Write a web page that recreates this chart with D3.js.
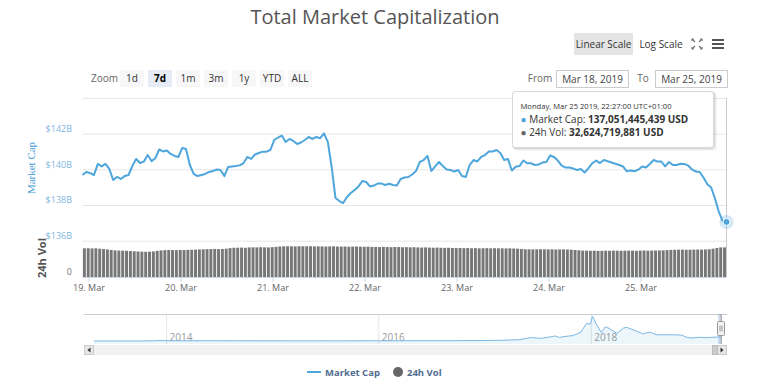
<!DOCTYPE html>
<html><head><meta charset="utf-8">
<script src="https://cdn.jsdelivr.net/npm/d3@7"></script>
<style>
html,body{margin:0;padding:0;background:#fff;}
svg{display:block;font-family:"Open Sans",sans-serif;}
</style></head><body>
<svg id="chart" width="768" height="381"></svg>
<script>
// ---------- data ----------
const chartTitle = "Total Market Capitalization";
const capStart = "2019-03-18T22:27:00Z";          // hourly samples
const capValues = [
139.68,139.85,139.79,139.68,140.30,140.16,140.30,140.02,139.40,139.57,
139.46,139.62,139.68,140.18,140.58,140.35,140.43,140.80,140.46,140.62,
141.11,141.00,141.05,140.86,140.75,140.69,141.19,141.14,140.24,139.74,
139.62,139.68,139.74,139.85,139.90,139.99,139.96,139.62,140.13,140.16,
140.18,140.22,140.35,140.69,140.58,140.83,140.91,140.99,140.99,141.08,
141.64,141.78,141.89,141.53,141.70,141.59,141.42,141.50,141.64,141.81,
141.70,141.81,141.74,142.01,141.53,140.13,138.39,138.22,138.11,138.45,
138.67,138.84,139.04,139.34,139.29,139.04,139.09,139.20,139.20,139.12,
139.19,139.12,139.09,139.46,139.54,139.57,139.71,139.90,140.41,140.52,
140.75,139.90,140.16,140.41,140.18,139.99,139.96,139.88,139.96,139.62,
139.57,140.24,140.52,140.44,140.69,140.80,141.00,141.00,141.08,140.91,
140.52,140.58,139.93,140.14,140.18,140.49,140.34,140.34,140.24,140.27,
140.38,140.41,140.77,140.69,140.49,140.21,140.10,140.10,140.04,139.96,
140.02,139.82,140.07,140.34,140.49,140.35,140.52,140.45,140.38,140.31,
140.24,140.16,139.89,139.93,139.89,139.98,140.16,140.10,140.30,140.52,
140.43,140.43,140.16,140.41,140.24,140.24,140.31,140.30,140.21,139.99,
139.87,139.85,139.54,139.16,138.98,138.36,137.61,137.10,137.051445439];
const volValues = [
31.6,31.7,31.5,31.6,31.2,30.8,30.4,
29.8,29.3,29.1,29.0,28.9,
28.6,28.3,28.1,27.9,27.8,27.9,28.2,28.8,
29.3,29.6,29.8,29.7,29.6,29.8,29.7,29.9,30.0,
30.2,30.4,30.5,30.7,30.8,30.9,30.8,30.9,31.2,
31.8,32.2,32.3,32.4,32.2,
32.6,32.7,32.6,32.8,32.7,32.6,32.9,33.2,
33.6,33.8,33.9,33.8,33.7,33.9,33.8,33.8,33.9,33.7,33.8,
33.7,33.6,33.7,33.8,33.6,33.5,33.6,33.4,33.5,33.6,33.4,33.3,33.4,33.2,
33.1,33.0,33.2,33.0,32.9,33.1,33.0,32.8,32.9,32.7,32.8,32.6,32.5,32.6,32.4,32.3,32.4,32.2,
32.1,32.2,32.0,31.9,32.0,31.8,31.9,31.7,31.8,31.6,31.7,31.8,31.6,31.7,31.6,
31.6,31.5,31.6,31.4,31.2,30.9,
30.6,30.5,30.4,30.5,30.6,30.5,30.4,30.5,30.3,30.4,30.5,30.3,30.1,29.8,
29.4,29.1,29.0,28.9,29.0,28.8,28.9,29.0,28.9,29.1,29.0,28.9,29.0,29.1,29.0,28.9,29.1,29.2,29.0,29.1,29.2,29.3,29.4,29.6,
29.9,30.0,30.1,30.2,30.0,30.1,30.2,30.3,30.2,30.4,30.6,31.2,
32.0,32.6,32.62];
const capTicks = [136, 138, 140, 142, 144];
const capLabelTicks = [136, 138, 140, 142];
const volTicks = [0];
const navDates = ["2013-04-28","2013-07-01","2013-10-01","2013-11-15","2013-12-04",
"2014-01-15","2014-03-01","2014-06-01","2014-09-01","2014-12-01",
"2015-03-01","2015-06-01","2015-09-01","2015-12-01",
"2016-03-01","2016-06-15","2016-09-01","2016-12-01",
"2017-01-05","2017-03-01","2017-05-01","2017-05-25","2017-06-12","2017-07-15","2017-08-15","2017-09-01","2017-09-15","2017-10-01","2017-11-01","2017-11-28","2017-12-17","2017-12-30",
"2018-01-07","2018-01-20","2018-02-06","2018-02-20","2018-03-05","2018-04-01","2018-04-24","2018-05-05","2018-06-01","2018-06-28","2018-07-25","2018-08-15","2018-09-10","2018-10-10","2018-11-10","2018-11-25","2018-12-15",
"2019-01-10","2019-02-06","2019-03-01","2019-03-25"];
const navValues = [1.5,1.1,1.9,6,15,
10,8,8.5,6,4.8,
3.8,3.8,3.7,6.5,
7.4,12,10.5,14,
18,23,45,90,115,90,140,170,120,150,185,300,600,570,
830,570,290,480,430,260,440,460,360,245,300,210,210,210,200,130,100,
125,115,130,137];
const navYearTicks = ["2014-01-01","2016-01-01","2018-01-01"];
const zoomButtons = ["1d","7d","1m","3m","1y","YTD","ALL"];
const selectedZoom = "7d";
const scaleButtons = ["Linear Scale","Log Scale"];
const rangeFrom = "Mar 18, 2019", rangeTo = "Mar 25, 2019";
const tooltipDate = "Monday, Mar 25 2019, 22:27:00 UTC+01:00";
const tooltipCap = "137,051,445,439 USD";
const tooltipVol = "32,624,719,881 USD";
const legendItems = ["Market Cap", "24h Vol"];

// ---------- setup ----------
const svg = d3.select("#chart");
const BLUE = "#4ea6dc";
const t0 = new Date(capStart);
const capTimes = capValues.map((v, i) => d3.utcHour.offset(t0, i));
const tEnd = capTimes[capTimes.length - 1];

const X0 = 82.5, X1 = 726.5;
const x = d3.scaleUtc().domain([t0, tEnd]).range([X0, X1]);
const yCap = d3.scaleLinear().domain([136, 144]).range([240.7, 97.9]);
const yVol = d3.scaleLinear().domain([0, 40]).range([277, 240.7]);

// title
svg.append("text").attr("x", 375).attr("y", 24).attr("text-anchor", "middle")
  .attr("font-size", 20).attr("fill", "#555").text(chartTitle);

// scale buttons
svg.append("rect").attr("x", 574).attr("y", 33).attr("width", 59).attr("height", 22)
  .attr("fill", "#e4e4e4").attr("rx", 1);
svg.append("text").attr("x", 603.5).attr("y", 47.5).attr("text-anchor", "middle")
  .attr("font-size", 10).attr("fill", "#333").text(scaleButtons[0]);
svg.append("text").attr("x", 661).attr("y", 47.5).attr("text-anchor", "middle")
  .attr("font-size", 10).attr("fill", "#333").text(scaleButtons[1]);
// fullscreen icon
const fs = svg.append("g").attr("stroke", "#777").attr("stroke-width", 1.2).attr("fill", "none");
[[692,39,1,1],[702,39,-1,1],[692,49,1,-1],[702,49,-1,-1]].forEach(([cx, cy, sx, sy]) => {
  fs.append("path").attr("d", `M${cx},${cy}L${cx + sx*3},${cy + sy*3}`);
  fs.append("path").attr("d", `M${cx},${cy}h${sx*2}M${cx},${cy}v${sy*2}`);
});
// menu icon
[40, 44, 48].forEach(yy => svg.append("line").attr("x1", 712).attr("x2", 724)
  .attr("y1", yy).attr("y2", yy).attr("stroke", "#555").attr("stroke-width", 2));

// zoom buttons
svg.append("text").attr("x", 91).attr("y", 82).attr("font-size", 10).attr("fill", "#666").text("Zoom");
const zb = svg.append("g").selectAll("g").data(zoomButtons).join("g")
  .attr("transform", (d, i) => `translate(${120 + i * 28},70)`);
zb.append("rect").attr("width", 24).attr("height", 17).attr("rx", 1)
  .attr("fill", d => d === selectedZoom ? "#e6ebf5" : "#f7f7f7");
zb.append("text").attr("x", 12).attr("y", 12).attr("text-anchor", "middle").attr("font-size", 10)
  .attr("font-weight", d => d === selectedZoom ? "bold" : "normal")
  .attr("fill", d => d === selectedZoom ? "#000" : "#333").text(d => d);

// range inputs
svg.append("text").attr("x", 540).attr("y", 82).attr("text-anchor", "middle")
  .attr("font-size", 10).attr("fill", "#666").text("From");
svg.append("rect").attr("x", 556.5).attr("y", 70.5).attr("width", 72).attr("height", 17)
  .attr("fill", "#fff").attr("stroke", "#ccc");
svg.append("text").attr("x", 592.5).attr("y", 82.5).attr("text-anchor", "middle")
  .attr("font-size", 10).attr("fill", "#444").text(rangeFrom);
svg.append("text").attr("x", 643).attr("y", 82).attr("text-anchor", "middle")
  .attr("font-size", 10).attr("fill", "#666").text("To");
svg.append("rect").attr("x", 655.5).attr("y", 70.5).attr("width", 72).attr("height", 17)
  .attr("fill", "#fff").attr("stroke", "#ccc");
svg.append("text").attr("x", 691.5).attr("y", 82.5).attr("text-anchor", "middle")
  .attr("font-size", 10).attr("fill", "#444").text(rangeTo);

// gridlines
svg.append("g").attr("transform", `translate(${X0},0)`)
  .call(d3.axisRight(yCap).tickValues(capTicks).tickSize(X1 - X0 + 1).tickFormat(""))
  .call(g => g.select(".domain").remove())
  .call(g => g.selectAll("line").attr("stroke", "#e6e6e6"));

// y labels (market cap)
svg.append("g").attr("transform", `translate(${X0},0)`)
  .call(d3.axisLeft(yCap).tickValues(capLabelTicks).tickSize(0).tickPadding(X0 - 72)
    .tickFormat(d => "$" + d + "B"))
  .call(g => g.select(".domain").remove())
  .call(g => g.selectAll("text").attr("y", -5).attr("font-size", 9)
    .attr("font-family", "Open Sans").attr("fill", "#7fb6df"));
svg.append("text").attr("transform", "translate(35,168) rotate(-90)").attr("text-anchor", "middle")
  .attr("font-family", "Liberation Serif").attr("font-size", 11).attr("fill", "#3d9ad6").text("Market Cap");

// volume axis
svg.append("g").attr("transform", `translate(${X0},0)`)
  .call(d3.axisLeft(yVol).tickValues(volTicks).tickSize(0).tickPadding(X0 - 72).tickFormat(d => d))
  .call(g => g.select(".domain").remove())
  .call(g => g.selectAll("text").attr("y", -5).attr("font-size", 9)
    .attr("font-family", "Open Sans").attr("fill", "#777"));
svg.append("text").attr("transform", "translate(46,258) rotate(-90)").attr("text-anchor", "middle")
  .attr("font-size", 11).attr("font-weight", "bold").attr("fill", "#555").text("24h Vol");

// volume bars
svg.append("g").selectAll("rect").data(volValues).join("rect")
  .attr("x", (d, i) => x(d3.utcHour.offset(t0, i)) + 0.4)
  .attr("width", (d, i) => x(d3.utcHour.offset(t0, i + 1)) - x(d3.utcHour.offset(t0, i)) - 0.9)
  .attr("y", d => yVol(d)).attr("height", d => yVol(0) - yVol(d))
  .attr("fill", "#777777");

// x axis
svg.append("g").attr("transform", "translate(0,277)")
  .call(d3.axisBottom(x).ticks(d3.utcDay.every(1)).tickSize(5).tickPadding(3)
    .tickFormat(d3.utcFormat("%-d. %b")))
  .call(g => g.select(".domain").attr("stroke", "#ccd6eb").attr("d", `M${X0},0.5H${X1}`))
  .call(g => g.selectAll("line").attr("stroke", "#ccd6eb"))
  .call(g => g.selectAll("text").attr("font-size", 9).attr("font-family", "Open Sans").attr("fill", "#666"));

// crosshair
svg.append("line").attr("x1", x(tEnd)).attr("x2", x(tEnd)).attr("y1", yCap(144)).attr("y2", 277)
  .attr("stroke", "#cccccc").attr("stroke-width", 1);

// market cap line
const line = d3.line().x((d, i) => x(capTimes[i])).y(d => yCap(d));
svg.append("path").datum(capValues).attr("d", line).attr("fill", "none")
  .attr("stroke", BLUE).attr("stroke-width", 2).attr("stroke-linejoin", "round");

// hover marker
const ex = x(tEnd), ey = yCap(capValues[capValues.length - 1]);
svg.append("circle").attr("cx", ex).attr("cy", ey).attr("r", 7).attr("fill", BLUE).attr("opacity", 0.25);
svg.append("circle").attr("cx", ex).attr("cy", ey).attr("r", 3.5).attr("fill", BLUE)
  .attr("stroke", "#fff").attr("stroke-width", 1);

// tooltip
const tt = svg.append("g").attr("transform", "translate(512,91)");
[3, 2, 1].forEach((o, k) => tt.append("rect").attr("x", o).attr("y", o).attr("width", 201).attr("height", 56)
  .attr("rx", 3).attr("fill", "none").attr("stroke", "#000").attr("stroke-opacity", 0.03 * (k + 1)).attr("stroke-width", 2));
tt.append("rect").attr("x", 0.5).attr("y", 0.5).attr("width", 201).attr("height", 56).attr("rx", 3)
  .attr("fill", "rgba(255,255,255,0.96)").attr("stroke", "#d8d8d8");
tt.append("text").attr("x", 8.5).attr("y", 18).attr("font-size", 7.6).attr("fill", "#333").text(tooltipDate);
const l2 = tt.append("text").attr("x", 8.5).attr("y", 31.5).attr("font-size", 10).attr("fill", "#333");
l2.append("tspan").attr("fill", BLUE).text("● ");
l2.append("tspan").text("Market Cap: ");
l2.append("tspan").attr("font-weight", "bold").text(tooltipCap);
const l3 = tt.append("text").attr("x", 8.5).attr("y", 44.5).attr("font-size", 10).attr("fill", "#333");
l3.append("tspan").attr("fill", "#666").text("● ");
l3.append("tspan").text("24h Vol: ");
l3.append("tspan").attr("font-weight", "bold").text(tooltipVol);

// ---------- navigator ----------
const navT = navDates.map(d => new Date(d + "T00:00:00Z"));
const xNav = d3.scaleUtc().domain([navT[0], navT[navT.length - 1]]).range([94, 721]);
const yNav = d3.scaleLinear().domain([0, 830]).range([341, 316.5]);
const NAV_TOP = 314, NAV_BOT = 344;

svg.append("g").attr("transform", `translate(0,${NAV_TOP})`)
  .call(d3.axisBottom(xNav).tickValues(navYearTicks.map(d => new Date(d + "T00:00:00Z")))
    .tickSize(NAV_BOT - NAV_TOP).tickFormat(d3.utcFormat("%Y")))
  .call(g => g.select(".domain").remove())
  .call(g => g.selectAll("line").attr("stroke", "#e6e6e6"))
  .call(g => g.selectAll("text").attr("text-anchor", "start").attr("x", 3).attr("y", 27).attr("dy", 0)
    .attr("font-size", 10).attr("font-family", "Open Sans").attr("fill", "#999"));

const navArea = d3.area().x((d, i) => xNav(navT[i])).y0(NAV_BOT).y1(d => yNav(d));
svg.append("path").datum(navValues).attr("d", navArea).attr("fill", BLUE).attr("fill-opacity", 0.1);
svg.append("path").datum(navValues).attr("d", d3.line().x((d, i) => xNav(navT[i])).y(d => yNav(d)))
  .attr("fill", "none").attr("stroke", "#7cb8e4").attr("stroke-width", 1);
svg.append("line").attr("x1", 84).attr("x2", 727).attr("y1", NAV_TOP + 0.5).attr("y2", NAV_TOP + 0.5)
  .attr("stroke", "#cccccc");

// selected range mask + handle
const selL = xNav(t0), selR = xNav(tEnd);
svg.append("rect").attr("x", selL - 1).attr("y", NAV_TOP).attr("width", Math.max(2, selR - selL + 1))
  .attr("height", NAV_BOT - NAV_TOP).attr("fill", "rgba(102,133,194,0.3)");
svg.append("line").attr("x1", selR).attr("x2", selR).attr("y1", NAV_TOP).attr("y2", NAV_BOT).attr("stroke", "#999");
const hd = svg.append("g").attr("transform", `translate(${Math.round(selR) - 3.5},321.5)`);
hd.append("rect").attr("width", 7).attr("height", 14).attr("rx", 1).attr("fill", "#f2f2f2").attr("stroke", "#999");
hd.append("path").attr("d", "M2.5,4V10M4.5,4V10").attr("stroke", "#999");

// scrollbar
svg.append("rect").attr("x", 84).attr("y", 345).attr("width", 643).attr("height", 10).attr("fill", "#f2f2f2");
svg.append("rect").attr("x", 84.5).attr("y", 345.5).attr("width", 9).attr("height", 9).attr("fill", "#e6e6e6").attr("stroke", "#ccc");
svg.append("path").attr("d", "M90.5,347.5L87.5,350L90.5,352.5Z").attr("fill", "#333");
svg.append("rect").attr("x", 717.5).attr("y", 345.5).attr("width", 9).attr("height", 9).attr("fill", "#e6e6e6").attr("stroke", "#ccc");
svg.append("path").attr("d", "M720.5,347.5L723.5,350L720.5,352.5Z").attr("fill", "#333");
svg.append("rect").attr("x", 712.5).attr("y", 345.5).attr("width", 5).attr("height", 9).attr("fill", "#cccccc").attr("stroke", "#bbb");

// legend
svg.append("line").attr("x1", 307).attr("x2", 321).attr("y1", 372).attr("y2", 372).attr("stroke", BLUE).attr("stroke-width", 2);
svg.append("text").attr("x", 325).attr("y", 375.5).attr("font-size", 9.5).attr("font-weight", "bold")
  .attr("fill", "#4f6c8e").text(legendItems[0]);
svg.append("circle").attr("cx", 398).attr("cy", 372).attr("r", 5).attr("fill", "#666");
svg.append("text").attr("x", 407).attr("y", 375.5).attr("font-size", 9.5).attr("font-weight", "bold")
  .attr("fill", "#4f6c8e").text(legendItems[1]);
</script>
</body></html>
